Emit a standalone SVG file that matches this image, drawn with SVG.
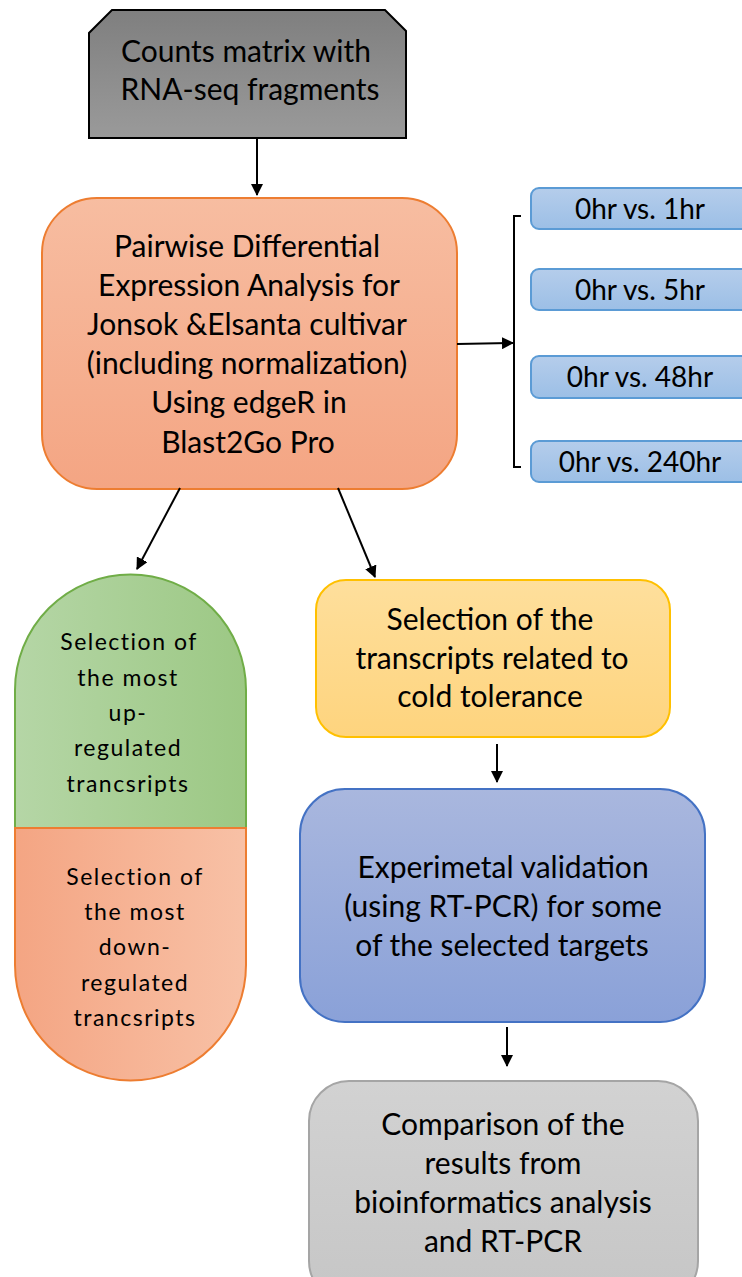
<svg xmlns="http://www.w3.org/2000/svg" width="742" height="1277" viewBox="0 0 742 1277">
<defs>
<linearGradient id="gGray" x1="0" y1="0" x2="0" y2="1"><stop offset="0" stop-color="#7f7f7f"/><stop offset="1" stop-color="#9a9a9a"/></linearGradient>
<linearGradient id="gOrangeV" x1="0" y1="0" x2="0" y2="1"><stop offset="0" stop-color="#f7bda1"/><stop offset="1" stop-color="#f4a583"/></linearGradient>
<linearGradient id="gBlueS" x1="0" y1="0" x2="0" y2="1"><stop offset="0" stop-color="#b5cdeb"/><stop offset="1" stop-color="#9cbfe6"/></linearGradient>
<linearGradient id="gGreenH" x1="0" y1="0" x2="1" y2="0"><stop offset="0" stop-color="#b5d6a6"/><stop offset="1" stop-color="#9cc884"/></linearGradient>
<linearGradient id="gOrangeH" x1="0" y1="0" x2="1" y2="0"><stop offset="0" stop-color="#f4a583"/><stop offset="1" stop-color="#f8c1a6"/></linearGradient>
<linearGradient id="gYellow" x1="0" y1="0" x2="0" y2="1"><stop offset="0" stop-color="#fedf9c"/><stop offset="1" stop-color="#fed47e"/></linearGradient>
<linearGradient id="gBlueL" x1="0" y1="0" x2="0" y2="1"><stop offset="0" stop-color="#a9b7de"/><stop offset="1" stop-color="#8aa1d8"/></linearGradient>
<linearGradient id="gGrayL" x1="0" y1="0" x2="0" y2="1"><stop offset="0" stop-color="#d2d2d2"/><stop offset="1" stop-color="#c6c6c6"/></linearGradient>
<marker id="ah" markerWidth="12" markerHeight="12" viewBox="0 0 12 12" refX="11" refY="6" orient="auto" markerUnits="userSpaceOnUse"><path d="M0,0 L12,6 L0,12 Z" fill="#000"/></marker>
</defs>
<style>
text{font-family:Lato,"Liberation Sans",sans-serif;fill:#000;text-anchor:middle}
.t27{font-size:30px}
.t25{font-size:28px}
.t23{font-size:23px;letter-spacing:1.5px}
.conn{stroke:#000;stroke-width:2;fill:none}
.bs{fill:url(#gBlueS);stroke:#5b9bd5;stroke-width:2}
</style>
<rect width="742" height="1277" fill="#fff"/>

<g id="counts">
<path d="M112,10 H385 L406,31 V138 H89 V33 Z" fill="url(#gGray)" stroke="#000" stroke-width="2"/>
<text class="t27" x="246" y="62">Counts matrix with</text>
<text class="t27" x="250" y="100">RNA-seq fragments</text>
</g>

<g id="pairwise">
<rect x="42" y="198" width="415" height="291" rx="55" fill="url(#gOrangeV)" stroke="#ed7d31" stroke-width="2"/>
<text class="t27" x="247" y="257">Pairwise Differential</text>
<text class="t27" x="249" y="296">Expression Analysis for</text>
<text class="t27" x="247" y="335">Jonsok &amp;Elsanta cultivar</text>
<text class="t27" x="247" y="374">(including normalization)</text>
<text class="t27" x="249" y="413">Using edgeR in</text>
<text class="t27" x="248" y="453">Blast2Go Pro</text>
</g>

<g id="cmp1"><rect class="bs" x="531" y="188" width="222" height="41" rx="8"/><text class="t25" x="640" y="219">0hr vs. 1hr</text></g>
<g id="cmp2"><rect class="bs" x="531" y="269" width="222" height="41" rx="8"/><text class="t25" x="640" y="300">0hr vs. 5hr</text></g>
<g id="cmp3"><rect class="bs" x="531" y="356" width="222" height="42" rx="8"/><text class="t25" x="640" y="387">0hr vs. 48hr</text></g>
<g id="cmp4"><rect class="bs" x="531" y="441" width="222" height="41" rx="8"/><text class="t25" x="640" y="472">0hr vs. 240hr</text></g>

<g id="upreg">
<path d="M15,828 V690 A115.5,115.5 0 0 1 246,690 V828 Z" fill="url(#gGreenH)" stroke="#70ad47" stroke-width="2"/>
<text class="t23" x="129" y="650">Selection of</text>
<text class="t23" x="128" y="686">the most</text>
<text class="t23" x="128" y="721">up-</text>
<text class="t23" x="128" y="756">regulated</text>
<text class="t23" x="128" y="792">trancsripts</text>
</g>
<g id="downreg">
<path d="M15,828 V965 A115.5,115.5 0 0 0 246,965 V828 Z" fill="url(#gOrangeH)" stroke="#ed7d31" stroke-width="2"/>
<text class="t23" x="135" y="885">Selection of</text>
<text class="t23" x="135" y="920">the most</text>
<text class="t23" x="135" y="955">down-</text>
<text class="t23" x="135" y="991">regulated</text>
<text class="t23" x="135" y="1026">trancsripts</text>
</g>

<g id="cold">
<rect x="316" y="580" width="354" height="157" rx="30" fill="url(#gYellow)" stroke="#ffc000" stroke-width="2"/>
<text class="t27" x="490" y="630">Selection of the</text>
<text class="t27" x="492" y="669">transcripts related to</text>
<text class="t27" x="490" y="707">cold tolerance</text>
</g>

<g id="validation">
<rect x="300" y="789" width="405" height="233" rx="45" fill="url(#gBlueL)" stroke="#4472c4" stroke-width="2"/>
<text class="t27" x="503" y="878">Experimetal validation</text>
<text class="t27" x="503" y="917">(using RT-PCR) for some</text>
<text class="t27" x="502" y="956">of the selected targets</text>
</g>

<g id="comparison">
<rect x="309" y="1081" width="389" height="220" rx="40" fill="url(#gGrayL)" stroke="#a5a5a5" stroke-width="2"/>
<text class="t27" x="503" y="1135">Comparison of the</text>
<text class="t27" x="503" y="1174">results from</text>
<text class="t27" x="503" y="1213">bioinformatics analysis</text>
<text class="t27" x="503" y="1252">and RT-PCR</text>
</g>

<g id="connectors">
<line class="conn" x1="257" y1="138" x2="257" y2="195" marker-end="url(#ah)"/>
<line class="conn" x1="457" y1="344" x2="513" y2="343" marker-end="url(#ah)"/>
<path class="conn" d="M521,216 H514 V467 H521"/>
<line class="conn" x1="180" y1="488" x2="137" y2="569" marker-end="url(#ah)"/>
<line class="conn" x1="338" y1="488" x2="375" y2="577" marker-end="url(#ah)"/>
<line class="conn" x1="497" y1="744" x2="497" y2="782" marker-end="url(#ah)"/>
<line class="conn" x1="507" y1="1027" x2="507" y2="1066" marker-end="url(#ah)"/>
</g>
</svg>
